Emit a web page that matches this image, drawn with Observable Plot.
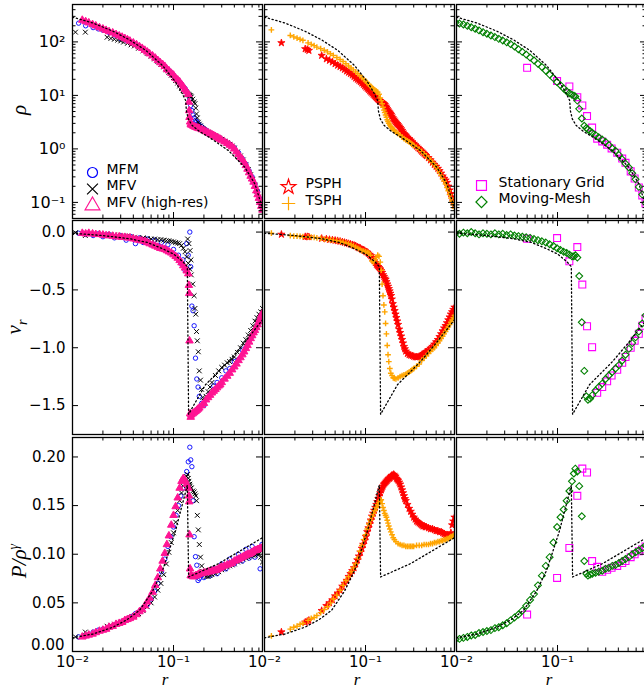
<!DOCTYPE html>
<html><head><meta charset="utf-8">
<script src="https://cdn.jsdelivr.net/npm/d3@7"></script>
<script src="https://cdn.jsdelivr.net/npm/@observablehq/plot@0.6"></script>
<style>
html,body{margin:0;padding:0;background:#fff;overflow:hidden;}
#fig{position:relative;width:644px;height:689px;overflow:hidden;background:#fff;}
#fig svg{position:absolute;}
.lab{position:absolute;font-family:"Liberation Serif","DejaVu Serif",serif;font-style:italic;font-size:21px;color:#000;white-space:nowrap;line-height:1;transform:translate(-50%,-50%);}
.rot{transform:translate(-50%,-50%) rotate(-90deg);}
.lab sub,.lab sup{font-size:14px;}
.xl{font-size:17px;line-height:19px;height:19px;transform:translate(-50%,0);}
</style></head><body><div id="fig"></div>
<script>
// ---------- axis ticks ----------
const xMajor = [0.01, 0.1];
const xMinor = [0.02,0.03,0.04,0.05,0.06,0.07,0.08,0.09,0.2,0.3,0.4,0.5,0.6,0.7];
const xTickLabels = ["10⁻²", "10⁻¹"];
const rhoMajor = [0.1, 1, 10, 100];
const rhoMinor = [0.06,0.07,0.08,0.09,0.2,0.3,0.4,0.5,0.6,0.7,0.8,0.9,2,3,4,5,6,7,8,9,20,30,40,50,60,70,80,90,200,300,400,500];
const rhoTickLabels = ["10⁻¹","10⁰","10¹","10²"];
const vMajor = [0, -0.5, -1.0, -1.5];
const vTickLabels = ["0.0","−0.5","−1.0","−1.5"];
const aMajor = [0, 0.05, 0.1, 0.15, 0.2];
const aTickLabels = ["0.00","0.05","0.10","0.15","0.20"];

// ---------- legends ----------
const legendCol1 = ["MFM", "MFV", "MFV (high-res)"];
const legendCol2 = ["PSPH", "TSPH"];
const legendCol3 = ["Stationary Grid", "Moving-Mesh"];

// ---------- analytic solution (dotted): [r, value] ----------
const exactRho = [[0.01,290],[0.0161,224],[0.0252,158],[0.0368,109],[0.0534,69],[0.078,36],[0.105,17.7],[0.12,11.5],[0.132,8.0],[0.134,5.2],[0.14,3.65],[0.153,2.74],[0.179,2.14],[0.224,1.66],[0.35,0.93],[0.51,0.45],[0.64,0.22],[0.72,0.108],[0.76,0.08]];
const exactV = [[0.01,-0.01],[0.02,-0.03],[0.037,-0.058],[0.055,-0.09],[0.078,-0.144],[0.1,-0.19],[0.109,-0.216],[0.125,-0.26],[0.137,-0.3],[0.141,-1.575],[0.207,-1.32],[0.35,-1.12],[0.5,-0.96],[0.69,-0.805],[0.76,-0.76]];
const exactA = [[0.01,0.0141],[0.016,0.018],[0.0252,0.025],[0.035,0.033],[0.0461,0.0423],[0.062,0.062],[0.078,0.0835],[0.09,0.103],[0.105,0.1247],[0.12,0.148],[0.137,0.171],[0.141,0.0766],[0.28,0.0904],[0.69,0.1144],[0.76,0.117]];

// ---------- simulation points: [r, rho, v_r, P/rho^gamma] ----------
const mfm = [
[0.0115,224,-0.01,0.015],[0.0135,200,-0.02,0.016],[0.016,185,-0.03,0.02],[0.018,175,-0.015,0.022],[0.02,165,-0.04,0.023],
[0.023,150,-0.02,0.025],[0.026,135,-0.05,0.027],[0.03,114,-0.03,0.03],[0.034,108,-0.07,0.033],[0.038,100,-0.04,0.036],
[0.042,90,-0.1,0.039],[0.046,82,-0.05,0.041],[0.05,75,-0.09,0.045],[0.055,66,-0.06,0.048],[0.06,58,-0.11,0.054],
[0.065,51,-0.07,0.062],[0.07,46,-0.12,0.07],[0.076,40,-0.09,0.082],[0.082,35,-0.14,0.095],[0.088,31,-0.11,0.108],
[0.094,27,-0.18,0.118],[0.1,24,-0.15,0.128],[0.106,21,-0.22,0.14],[0.112,19,-0.2,0.15],[0.118,17,-0.27,0.16],
[0.124,15,-0.24,0.168],[0.13,13.5,-0.33,0.176],[0.135,12,-0.1,0.185],[0.14,10.5,-0.2,0.195],[0.145,8.5,0.0,0.21],
[0.148,6.5,-0.3,0.197],[0.152,5.2,-0.64,0.19],[0.156,4.3,-0.68,0.155],[0.16,3.8,-0.81,0.118],[0.165,3.4,-1.09,0.0975],
[0.17,3.2,-1.27,0.0887],[0.175,3.0,-1.34,0.073],[0.18,2.8,-1.42,0.075],[0.19,2.6,-1.48,0.078],[0.2,2.4,-1.5,0.076],
[0.21,2.25,-1.45,0.082],[0.23,2.0,-1.4,0.078],[0.25,1.85,-1.33,0.085],[0.27,1.7,-1.3,0.08],[0.3,1.5,-1.26,0.09],
[0.33,1.35,-1.2,0.085],[0.36,1.22,-1.18,0.095],[0.4,1.05,-1.12,0.09],[0.44,0.85,-1.1,0.1],[0.48,0.66,-1.02,0.093],
[0.52,0.52,-1.0,0.105],[0.56,0.39,-0.94,0.096],[0.6,0.3,-0.9,0.108],[0.64,0.22,-0.85,0.097],[0.68,0.16,-0.8,0.105],
[0.72,0.115,-0.76,0.085],[0.75,0.092,-0.72,0.11]];

const mfv = [
[0.0107,152,-0.005,0.015],[0.0134,152,-0.03,0.02],[0.022,122,-0.02,0.026],[0.024,116,-0.025,0.027],[0.026,112,-0.025,0.028],
[0.028,108,-0.03,0.029],[0.03,104,-0.03,0.03],[0.032,99,-0.035,0.031],[0.035,94,-0.035,0.033],[0.038,88,-0.04,0.035],
[0.041,84,-0.045,0.037],[0.045,76,-0.05,0.039],[0.05,68,-0.05,0.042],[0.055,61,-0.055,0.046],[0.06,54,-0.06,0.05],
[0.065,48,-0.06,0.056],[0.07,43,-0.065,0.063],[0.075,38,-0.065,0.07],[0.08,34,-0.07,0.079],[0.085,30,-0.075,0.09],
[0.09,27,-0.075,0.102],[0.095,24,-0.08,0.112],[0.1,21.5,-0.085,0.122],[0.105,19,-0.09,0.133],[0.11,17,-0.095,0.145],
[0.115,15,-0.1,0.155],[0.12,13.5,-0.115,0.163],[0.125,12.5,-0.14,0.17],[0.13,11.8,-0.17,0.176],[0.135,11,-0.215,0.18],
[0.138,10.8,-0.06,0.182],[0.14,10.5,-0.27,0.178],[0.142,10.2,-0.1,0.175],[0.145,10,-0.32,0.172],[0.146,9.8,-0.16,0.17],
[0.149,9.5,-0.24,0.168],[0.15,9.3,-0.37,0.168],[0.155,8.5,-0.45,0.165],[0.16,7.5,-0.55,0.164],[0.163,7,-0.66,0.162],
[0.166,5.8,-0.71,0.16],[0.169,4.5,-0.86,0.155],[0.172,3.8,-0.94,0.14],[0.176,3.15,-1.035,0.125],[0.18,2.9,-1.2,0.11],
[0.185,2.7,-1.28,0.097],[0.19,2.5,-1.36,0.088],[0.195,2.4,-1.43,0.082],[0.2,2.3,-1.46,0.079],[0.21,2.15,-1.42,0.077],
[0.22,2.05,-1.38,0.077],[0.23,1.95,-1.34,0.078],[0.24,1.87,-1.3,0.079],[0.26,1.74,-1.24,0.08],[0.28,1.62,-1.2,0.082],
[0.3,1.5,-1.17,0.084],[0.32,1.4,-1.15,0.085],[0.34,1.3,-1.13,0.087],[0.36,1.22,-1.12,0.088],[0.38,1.13,-1.1,0.089],
[0.4,1.04,-1.08,0.09],[0.43,0.88,-1.04,0.092],[0.46,0.74,-1.0,0.093],[0.49,0.62,-0.96,0.095],[0.52,0.5,-0.93,0.096],
[0.55,0.41,-0.89,0.097],[0.58,0.33,-0.85,0.098],[0.61,0.27,-0.81,0.099],[0.64,0.21,-0.77,0.099],[0.67,0.16,-0.74,0.1],
[0.7,0.125,-0.71,0.1],[0.73,0.1,-0.69,0.097],[0.76,0.08,-0.66,0.092]];

const mfvHighRes = [
[0.0125,255,-0.01,0.015],[0.0135,240,-0.015,0.016],[0.0145,228,-0.01,0.017],[0.0158,212,-0.015,0.018],[0.017,200,-0.02,0.0195],
[0.0185,185,-0.02,0.021],[0.02,175,-0.025,0.022],[0.0215,165,-0.03,0.023],[0.023,156,-0.03,0.025],[0.025,148,-0.035,0.026],
[0.027,138,-0.04,0.028],[0.029,130,-0.04,0.029],[0.031,123,-0.045,0.03],[0.033,116,-0.045,0.032],[0.035,110,-0.05,0.033],
[0.037,104,-0.05,0.034],[0.04,96,-0.058,0.0355],[0.043,89,-0.065,0.038],[0.046,82,-0.07,0.041],[0.049,76,-0.075,0.043],
[0.052,70,-0.08,0.047],[0.055,65,-0.09,0.051],[0.058,60,-0.1,0.055],[0.062,55,-0.11,0.061],[0.066,50,-0.12,0.068],
[0.07,45,-0.13,0.076],[0.074,41,-0.14,0.085],[0.078,38,-0.145,0.093],[0.082,35,-0.15,0.101],[0.086,31,-0.16,0.11],
[0.09,29,-0.17,0.119],[0.095,26,-0.18,0.13],[0.1,24,-0.195,0.14],[0.105,21,-0.21,0.149],[0.11,19.5,-0.225,0.158],
[0.115,18,-0.245,0.168],[0.12,16,-0.265,0.175],[0.125,14.5,-0.29,0.178],[0.13,13,-0.31,0.176],[0.135,11.8,-0.335,0.172],
[0.14,10.5,-0.36,0.168],[0.142,7.5,-0.46,0.16],[0.143,5.2,-0.53,0.154],[0.144,3.9,-0.94,0.12],[0.146,3.2,-1.57,0.085],
[0.148,2.9,-1.6,0.078],[0.15,2.8,-1.58,0.078],[0.155,2.7,-1.57,0.077],[0.16,2.62,-1.56,0.077],[0.165,2.55,-1.55,0.078],
[0.17,2.5,-1.54,0.078],[0.175,2.45,-1.53,0.079],[0.18,2.4,-1.52,0.08],[0.19,2.3,-1.5,0.08],[0.2,2.2,-1.48,0.081],
[0.21,2.1,-1.45,0.081],[0.22,2.0,-1.43,0.082],[0.23,1.92,-1.41,0.082],[0.24,1.85,-1.39,0.083],[0.25,1.78,-1.375,0.083],
[0.26,1.71,-1.36,0.0835],[0.27,1.64,-1.345,0.084],[0.28,1.58,-1.33,0.085],[0.29,1.52,-1.32,0.086],[0.3,1.46,-1.3,0.087],
[0.32,1.36,-1.27,0.088],[0.34,1.27,-1.245,0.089],[0.36,1.18,-1.22,0.09],[0.38,1.1,-1.19,0.091],[0.4,1.0,-1.165,0.093],
[0.42,0.89,-1.14,0.094],[0.44,0.79,-1.11,0.095],[0.46,0.7,-1.085,0.096],[0.48,0.64,-1.06,0.097],[0.5,0.56,-1.035,0.098],
[0.52,0.49,-1.006,0.099],[0.54,0.42,-0.98,0.1],[0.56,0.36,-0.95,0.1],[0.58,0.31,-0.92,0.101],[0.6,0.275,-0.895,0.102],
[0.62,0.24,-0.87,0.103],[0.64,0.2,-0.85,0.104],[0.66,0.165,-0.825,0.104],[0.68,0.14,-0.8,0.105],[0.7,0.12,-0.775,0.105],
[0.72,0.1,-0.75,0.106],[0.74,0.085,-0.72,0.106],[0.76,0.072,-0.7,0.107]];

const psph = [
[0.0147,96,-0.02,0.02],[0.0253,74,-0.04,0.03],[0.0265,72,-0.04,0.031],[0.0275,69,-0.042,0.032],[0.0368,55.7,-0.055,0.042],
[0.041,48,-0.06,0.047],[0.044,45,-0.065,0.05],[0.047,42,-0.068,0.053],[0.05,39,-0.072,0.057],[0.053,36.5,-0.075,0.06],
[0.056,34.5,-0.08,0.063],[0.059,32.5,-0.085,0.067],[0.062,30.5,-0.09,0.07],[0.065,28.5,-0.095,0.073],[0.068,27,-0.1,0.077],
[0.071,25.5,-0.105,0.08],[0.074,24,-0.11,0.083],[0.077,22.5,-0.115,0.086],[0.08,21,-0.12,0.09],[0.083,20,-0.13,0.094],
[0.086,19,-0.135,0.098],[0.089,18,-0.14,0.102],[0.092,17,-0.15,0.106],[0.095,16,-0.155,0.11],[0.098,15,-0.16,0.114],
[0.101,14.2,-0.17,0.118],[0.104,13.5,-0.175,0.123],[0.107,12.8,-0.185,0.127],[0.11,12.1,-0.195,0.131],[0.113,11.5,-0.205,0.135],
[0.116,11,-0.22,0.139],[0.119,10.4,-0.235,0.142],[0.122,9.9,-0.25,0.145],[0.125,9.4,-0.265,0.148],[0.128,9.0,-0.28,0.151],
[0.131,8.6,-0.29,0.154],[0.134,8.3,-0.3,0.157],[0.137,8.0,-0.31,0.16],[0.14,7.8,-0.32,0.163],[0.143,7.6,-0.335,0.166],
[0.146,7.4,-0.35,0.168],[0.149,7.2,-0.37,0.17],[0.152,7.0,-0.385,0.172],[0.155,6.7,-0.4,0.173],[0.158,6.3,-0.41,0.174],
[0.161,6.0,-0.43,0.175],[0.164,5.6,-0.45,0.176],[0.167,5.3,-0.47,0.177],[0.17,5.0,-0.49,0.178],[0.173,4.8,-0.51,0.178],
[0.176,4.6,-0.53,0.179],[0.179,4.4,-0.55,0.18],[0.182,4.1,-0.58,0.181],[0.186,3.8,-0.62,0.181],[0.19,3.6,-0.65,0.182],
[0.194,3.4,-0.68,0.181],[0.198,3.2,-0.71,0.18],[0.202,3.05,-0.74,0.178],[0.206,2.95,-0.77,0.177],[0.21,2.8,-0.8,0.176],
[0.215,2.65,-0.84,0.174],[0.22,2.5,-0.87,0.172],[0.225,2.35,-0.9,0.169],[0.23,2.2,-0.93,0.166],[0.235,2.05,-0.96,0.163],
[0.24,1.92,-0.99,0.16],[0.245,1.85,-1.01,0.157],[0.25,1.78,-1.03,0.155],[0.26,1.65,-1.05,0.151],[0.27,1.55,-1.06,0.147],
[0.28,1.45,-1.065,0.144],[0.29,1.35,-1.07,0.141],[0.3,1.26,-1.075,0.138],[0.31,1.18,-1.08,0.136],[0.32,1.12,-1.08,0.134],
[0.33,1.06,-1.08,0.133],[0.34,1.0,-1.075,0.132],[0.35,0.95,-1.07,0.131],[0.36,0.9,-1.065,0.13],[0.37,0.86,-1.06,0.129],
[0.38,0.82,-1.05,0.129],[0.39,0.78,-1.04,0.128],[0.4,0.74,-1.035,0.128],[0.42,0.68,-1.02,0.127],[0.44,0.62,-1.005,0.126],
[0.46,0.56,-0.99,0.126],[0.48,0.51,-0.97,0.125],[0.5,0.47,-0.95,0.124],[0.52,0.43,-0.93,0.124],[0.54,0.39,-0.905,0.123],
[0.56,0.35,-0.88,0.123],[0.58,0.31,-0.855,0.122],[0.6,0.28,-0.83,0.121],[0.62,0.26,-0.81,0.12],[0.64,0.235,-0.785,0.12],
[0.66,0.2,-0.76,0.119],[0.68,0.17,-0.735,0.119],[0.7,0.145,-0.71,0.122],[0.72,0.125,-0.69,0.13],[0.74,0.105,-0.67,0.134],
[0.76,0.09,-0.65,0.138]];

const tsph = [
[0.0117,168,-0.01,0.016],[0.018,132,-0.03,0.023],[0.0195,124,-0.035,0.025],[0.021,118,-0.035,0.026],[0.0225,112,-0.038,0.028],
[0.024,107,-0.04,0.029],[0.027,96,-0.042,0.032],[0.029,90,-0.044,0.034],[0.031,85,-0.046,0.035],[0.033,80,-0.05,0.037],
[0.036,75,-0.055,0.04],[0.039,70,-0.06,0.043],[0.042,65,-0.064,0.046],[0.045,60,-0.068,0.05],[0.048,56,-0.07,0.054],
[0.052,51,-0.075,0.058],[0.056,47,-0.08,0.063],[0.06,43,-0.088,0.068],[0.064,39,-0.095,0.073],[0.068,35.5,-0.1,0.077],
[0.072,32.5,-0.11,0.082],[0.076,30,-0.12,0.086],[0.08,27.5,-0.13,0.09],[0.084,25.5,-0.14,0.096],[0.088,23.5,-0.15,0.103],
[0.092,21.5,-0.16,0.109],[0.096,20,-0.165,0.115],[0.1,18.5,-0.17,0.12],[0.104,17.3,-0.175,0.126],[0.108,16,-0.18,0.131],
[0.112,14.8,-0.2,0.135],[0.116,14,-0.25,0.139],[0.12,13.2,-0.26,0.142],[0.124,12.5,-0.24,0.145],[0.128,12,-0.22,0.148],
[0.132,11.5,-0.2,0.151],[0.136,10.5,-0.21,0.153],[0.14,9,-0.26,0.155],[0.143,8,-0.33,0.156],[0.146,7,-0.45,0.152],
[0.149,6,-0.55,0.148],[0.152,5.3,-0.63,0.145],[0.155,4.8,-0.69,0.142],[0.158,4.3,-0.79,0.14],[0.161,3.9,-0.88,0.138],
[0.164,3.5,-0.98,0.135],[0.167,3.25,-1.06,0.132],[0.17,3.0,-1.12,0.129],[0.174,2.8,-1.18,0.126],[0.178,2.6,-1.22,0.123],
[0.183,2.45,-1.24,0.12],[0.188,2.3,-1.26,0.117],[0.193,2.2,-1.265,0.115],[0.2,2.05,-1.27,0.113],[0.21,1.92,-1.26,0.111],
[0.22,1.8,-1.25,0.11],[0.23,1.66,-1.24,0.109],[0.24,1.55,-1.235,0.109],[0.25,1.48,-1.23,0.108],[0.26,1.41,-1.22,0.108],
[0.27,1.35,-1.21,0.108],[0.28,1.28,-1.2,0.108],[0.29,1.22,-1.19,0.108],[0.3,1.16,-1.18,0.108],[0.32,1.07,-1.16,0.109],
[0.34,0.98,-1.14,0.109],[0.36,0.89,-1.11,0.109],[0.38,0.81,-1.09,0.11],[0.4,0.74,-1.07,0.11],[0.42,0.67,-1.05,0.11],
[0.44,0.61,-1.03,0.111],[0.46,0.56,-1.015,0.111],[0.48,0.51,-1.0,0.112],[0.5,0.46,-0.98,0.112],[0.52,0.41,-0.96,0.113],
[0.54,0.36,-0.94,0.113],[0.56,0.32,-0.92,0.114],[0.58,0.28,-0.9,0.114],[0.6,0.25,-0.88,0.115],[0.62,0.22,-0.86,0.115],
[0.64,0.19,-0.84,0.116],[0.66,0.165,-0.82,0.116],[0.68,0.14,-0.8,0.117],[0.7,0.12,-0.78,0.118],[0.72,0.105,-0.76,0.118],
[0.74,0.09,-0.74,0.119],[0.76,0.078,-0.72,0.12]];

const stationaryGrid = [
[0.05,32.8,-0.058,0.038],[0.099,18.5,-0.052,0.0756],[0.131,14.7,-0.253,0.1065],[0.157,9.25,-0.13,0.16],[0.176,6.5,-0.454,0.188],
[0.196,4.1,-0.814,0.184],[0.22,2.5,-0.995,0.093],[0.247,1.55,-1.39,0.087],[0.277,1.38,-1.34,0.082],[0.31,1.2,-1.29,0.084],
[0.343,1.02,-1.24,0.086],[0.39,0.85,-1.19,0.088],[0.437,0.66,-1.13,0.091],[0.471,0.55,-1.08,0.093],[0.53,0.38,-1.0,0.097],
[0.58,0.28,-0.94,0.1],[0.638,0.19,-0.88,0.103],[0.69,0.135,-0.81,0.105],[0.743,0.095,-0.75,0.108]];

const movingMesh = [
[0.0098,230,-0.01,0.0125],[0.0107,220,-0.015,0.013],[0.0117,212,-0.005,0.014],[0.0128,200,-0.01,0.015],[0.014,188,0.0,0.0165],
[0.0153,176,-0.01,0.017],[0.0167,164,-0.02,0.019],[0.0183,152,-0.01,0.02],[0.02,142,-0.015,0.021],[0.0219,132,-0.02,0.022],
[0.024,123,-0.01,0.024],[0.0262,114,-0.02,0.025],[0.0287,106,-0.015,0.027],[0.0314,98,-0.025,0.029],[0.0343,91,-0.02,0.032],
[0.0375,82,-0.03,0.035],[0.041,73,-0.035,0.038],[0.0448,65,-0.04,0.042],[0.049,58,-0.045,0.047],[0.0535,51,-0.05,0.053],
[0.0585,45,-0.06,0.059],[0.064,39,-0.07,0.068],[0.07,34,-0.08,0.078],[0.0765,29,-0.09,0.088],[0.0835,24.5,-0.105,0.097],
[0.091,21,-0.12,0.112],[0.099,17.7,-0.14,0.128],[0.107,15.5,-0.155,0.138],[0.115,13.5,-0.17,0.146],[0.123,12,-0.18,0.155],
[0.131,11,-0.195,0.165],[0.139,10.3,-0.21,0.175],[0.145,9.9,-0.21,0.183],[0.15,9.5,-0.2,0.188],[0.157,8.0,-0.22,0.185],
[0.164,5.6,-0.38,0.17],[0.174,3.7,-0.78,0.139],[0.184,2.7,-1.2,0.093],[0.193,2.45,-1.42,0.08],[0.2,2.3,-1.45,0.078],
[0.21,2.15,-1.44,0.079],[0.221,2.0,-1.41,0.08],[0.238,1.82,-1.37,0.081],[0.256,1.65,-1.34,0.082],[0.277,1.5,-1.31,0.083],
[0.299,1.35,-1.27,0.085],[0.322,1.18,-1.24,0.086],[0.348,1.02,-1.21,0.088],[0.375,0.92,-1.18,0.089],[0.405,0.77,-1.15,0.091],
[0.437,0.64,-1.11,0.093],[0.471,0.53,-1.06,0.095],[0.508,0.45,-1.01,0.097],[0.549,0.35,-0.96,0.1],[0.592,0.27,-0.91,0.102],
[0.638,0.195,-0.86,0.104],[0.69,0.14,-0.79,0.106],[0.743,0.098,-0.72,0.109]];

// ---------- layout ----------
const COLX = [72, 264, 456], ROWY = [4, 220, 437];
const PW = 190, PH = 214;
const ML = 70, MR = 12, MT = 8, MB = 40;

const series = [
  [ {data: mfm, symbol: "circle", r: 2.2, stroke: "#0000ff", fill: "none", sw: 0.9, lr: 5},
    {data: mfv, symbol: "times", r: 2.3, stroke: "#000000", fill: "none", sw: 1, lr: 5},
    {data: mfvHighRes, symbol: "triangle", r: 2.8, stroke: "#ff1493", fill: "#ff1493", sw: 1, lr: 5.5} ],
  [ {data: psph, symbol: "star", r: 2.3, stroke: "#ff0000", fill: "#ff0000", sw: 0.8, lr: 4.6},
    {data: tsph, symbol: "plus", r: 2.0, stroke: "#ffa500", fill: "none", sw: 1.4, lr: 4.4} ],
  [ {data: stationaryGrid, symbol: "square", r: 3.9, stroke: "#ff00ff", fill: "none", sw: 1.1, lr: 5.6},
    {data: movingMesh, symbol: "diamond2", r: 3.1, stroke: "#008000", fill: "none", sw: 1.1, lr: 5.0} ]
];
const legends = [
  {labels: legendCol1, mdx: 20, tdx: 34, dy: [-46, -29.5, -13]},
  {labels: legendCol2, mdx: 24, tdx: 41, dy: [-31.5, -15]},
  {labels: legendCol3, mdx: 25, tdx: 42, dy: [-33, -16.5]}
];
const exact = [exactRho, exactV, exactA];
const yScale = [
  {type: "log", domain: [0.05, 500]},
  {type: "linear", domain: [-1.75, 0.1]},
  {type: "linear", domain: [0, 0.22]}
];
const yMajor = [rhoMajor, vMajor, aMajor];
const yMinor = [rhoMinor, [], []];
const yLabels = [rhoTickLabels, vTickLabels, aTickLabels];
const yLabelSize = [16, 15, 15];

const fig = document.getElementById("fig");

function panel(row, col) {
  const marks = [];
  for (const s of series[col]) {
    marks.push(Plot.dot(s.data, {x: d => d[0], y: d => d[row + 1], symbol: s.symbol, r: s.r,
      stroke: s.stroke, fill: s.fill, strokeWidth: s.sw, clip: true}));
  }
  marks.push(Plot.line(exact[row], {x: d => d[0], y: d => d[1], stroke: "black",
    strokeWidth: 1.3, strokeDasharray: "1.3,2.6", clip: true}));
  // inward ticks on all four sides
  const maj = 6, mnr = 3.5;
  marks.push(Plot.tickX(xMajor, {x: d => d, insetTop: PH - maj, stroke: "black"}));
  marks.push(Plot.tickX(xMajor, {x: d => d, insetBottom: PH - maj, stroke: "black"}));
  marks.push(Plot.tickX(xMinor, {x: d => d, insetTop: PH - mnr, stroke: "black"}));
  marks.push(Plot.tickX(xMinor, {x: d => d, insetBottom: PH - mnr, stroke: "black"}));
  marks.push(Plot.tickY(yMajor[row], {y: d => d, insetRight: PW - maj, stroke: "black"}));
  marks.push(Plot.tickY(yMajor[row], {y: d => d, insetLeft: PW - maj, stroke: "black"}));
  if (yMinor[row].length) {
    marks.push(Plot.tickY(yMinor[row], {y: d => d, insetRight: PW - mnr, stroke: "black"}));
    marks.push(Plot.tickY(yMinor[row], {y: d => d, insetLeft: PW - mnr, stroke: "black"}));
  }
  marks.push(Plot.frame({stroke: "black", strokeWidth: 1.3}));
  if (col === 0) {
    // the bottom label of the last row sits a little higher so it clears the x tick label
    const idx = yMajor[row].map((d, i) => i);
    const low = row === 2 ? idx.filter(i => yMajor[row][i] === 0) : [];
    const rest = idx.filter(i => !low.includes(i));
    marks.push(Plot.text(rest, {y: i => yMajor[row][i], text: i => yLabels[row][i], frameAnchor: "left",
      dx: -7, textAnchor: "end", fontSize: yLabelSize[row], fill: "black"}));
    if (low.length) marks.push(Plot.text(low, {y: i => yMajor[row][i], text: i => yLabels[row][i], frameAnchor: "left",
      dx: -8, dy: -6, textAnchor: "end", fontSize: yLabelSize[row], fill: "black"}));
  }
  if (row === 2) {
    marks.push(Plot.text(xMajor, {x: d => d, text: (d, i) => xTickLabels[i], frameAnchor: "bottom",
      dy: 15.5, fontSize: 15, fill: "black"}));
  }
  if (row === 0) {
    const L = legends[col];
    L.labels.forEach((lab, i) => {
      const s = series[col][i];
      marks.push(Plot.dot([lab], {frameAnchor: "bottom-left", dx: L.mdx, dy: L.dy[i], symbol: s.symbol,
        r: s.lr, stroke: s.stroke, fill: "none", strokeWidth: 1.2}));
      marks.push(Plot.text([lab], {frameAnchor: "bottom-left", dx: L.tdx, dy: L.dy[i] + 1, text: d => d,
        textAnchor: "start", fontSize: 14, fill: "black"}));
    });
  }
  const svg = Plot.plot({
    width: PW + ML + MR, height: PH + MT + MB,
    marginLeft: ML, marginRight: MR, marginTop: MT, marginBottom: MB,
    style: {background: "transparent", fontFamily: "DejaVu Sans", overflow: "visible"},
    x: {type: "log", domain: [0.01, 0.76], axis: null},
    y: {...yScale[row], axis: null},
    marks
  });
  svg.style.left = (COLX[col] - ML) + "px";
  svg.style.top = (ROWY[row] - MT) + "px";
  fig.appendChild(svg);
}

for (let row = 0; row < 3; row++) for (let col = 0; col < 3; col++) panel(row, col);

// axis titles
function addLabel(html, x, y, cls) {
  const d = document.createElement("div");
  d.className = "lab " + cls;
  d.innerHTML = html;
  d.style.left = x + "px";
  d.style.top = y + "px";
  fig.appendChild(d);
}
addLabel("ρ", 19, 110, "rot");
addLabel("v<sub>r</sub>", 17, 327, "rot");
addLabel("P/ρ<sup>γ</sup>", 18, 561, "rot");
for (let c = 0; c < 3; c++) addLabel("r", COLX[c] + PW / 2 - 2, 670, "xl");
</script></body></html>
